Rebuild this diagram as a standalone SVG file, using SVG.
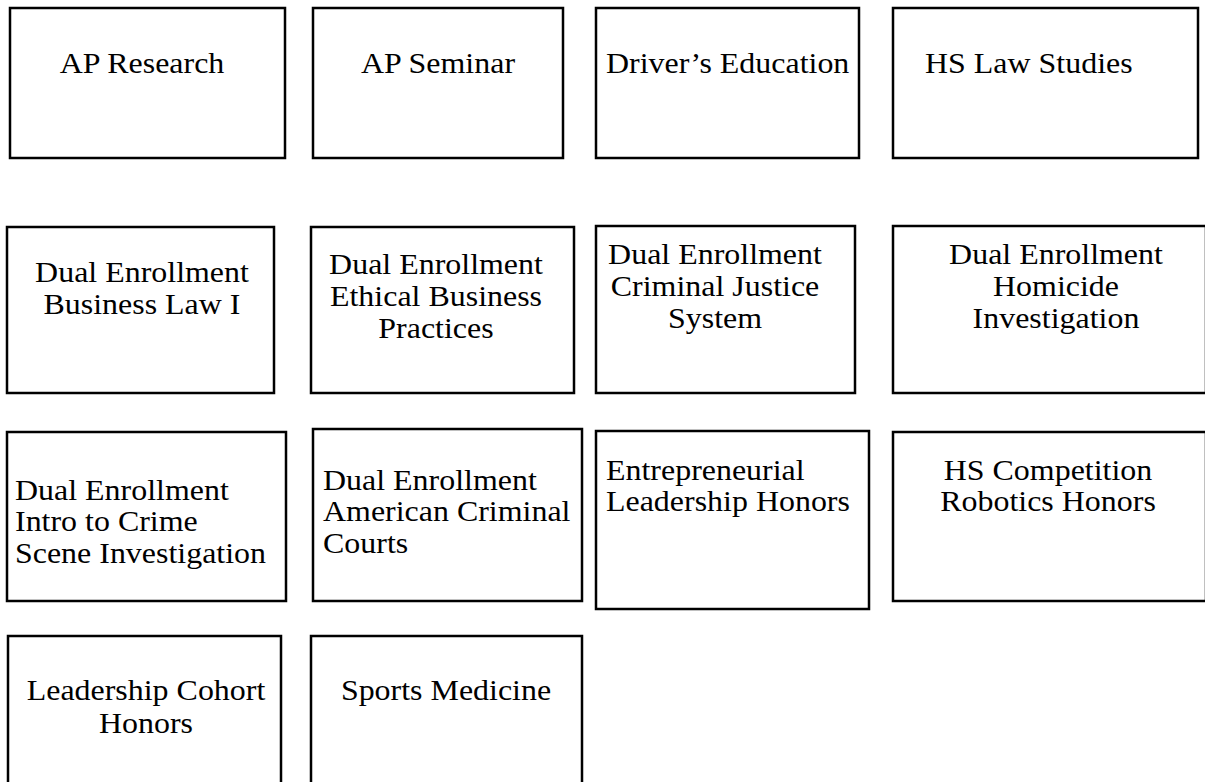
<svg xmlns="http://www.w3.org/2000/svg" width="1205" height="782" viewBox="0 0 1205 782">
<style>
.box{fill:#fff;stroke:#000;stroke-width:2.5}
.t{font-family:"Liberation Serif","Times New Roman",serif;font-size:28.4px;fill:#000}
.c{text-anchor:middle}
</style>
<rect width="1205" height="782" fill="#fff"/>
<g id="connectors"/>
<g id="n1"><rect class="box" x="10" y="8" width="275" height="150"/><text class="t c" transform="translate(142,73) scale(1.125,1)" x="0" y="0">AP Research</text></g>
<g id="n2"><rect class="box" x="313" y="8" width="250" height="150"/><text class="t c" transform="translate(438,73) scale(1.125,1)" x="0" y="0">AP Seminar</text></g>
<g id="n3"><rect class="box" x="596" y="8" width="263" height="150"/><text class="t" transform="translate(606,73) scale(1.125,1)" x="0" y="0">Driver’s Education</text></g>
<g id="n4"><rect class="box" x="893" y="8" width="305" height="150"/><text class="t" transform="translate(925,73) scale(1.125,1)" x="0" y="0">HS Law Studies</text></g>

<g id="n5"><rect class="box" x="7" y="227" width="267" height="166"/><text class="t c" transform="translate(142,282) scale(1.125,1)" y="0"><tspan x="0">Dual Enrollment</tspan><tspan x="0" dy="32">Business Law I</tspan></text></g>
<g id="n6"><rect class="box" x="311" y="227" width="263" height="166"/><text class="t c" transform="translate(436,274) scale(1.125,1)" y="0"><tspan x="0">Dual Enrollment</tspan><tspan x="0" dy="32">Ethical Business</tspan><tspan x="0" dy="32">Practices</tspan></text></g>
<g id="n7"><rect class="box" x="596" y="226" width="259" height="167"/><text class="t c" transform="translate(715,264) scale(1.125,1)" y="0"><tspan x="0">Dual Enrollment</tspan><tspan x="0" dy="32">Criminal Justice</tspan><tspan x="0" dy="32">System</tspan></text></g>
<g id="n8"><rect class="box" x="893" y="226" width="313" height="167"/><text class="t c" transform="translate(1056,264) scale(1.125,1)" y="0"><tspan x="0">Dual Enrollment</tspan><tspan x="0" dy="32">Homicide</tspan><tspan x="0" dy="32">Investigation</tspan></text></g>

<g id="n9"><rect class="box" x="7" y="432" width="279" height="169"/><text class="t" transform="translate(15,500) scale(1.125,1)" y="0"><tspan x="0">Dual Enrollment</tspan><tspan x="0" dy="31.5">Intro to Crime</tspan><tspan x="0" dy="31.5">Scene Investigation</tspan></text></g>
<g id="n10"><rect class="box" x="313" y="429" width="269" height="172"/><text class="t" transform="translate(323,490) scale(1.125,1)" y="0"><tspan x="0">Dual Enrollment</tspan><tspan x="0" dy="31.5">American Criminal</tspan><tspan x="0" dy="31.5">Courts</tspan></text></g>
<g id="n11"><rect class="box" x="596" y="431" width="273" height="178"/><text class="t" transform="translate(606,480) scale(1.125,1)" y="0"><tspan x="0">Entrepreneurial</tspan><tspan x="0" dy="31.5">Leadership Honors</tspan></text></g>
<g id="n12"><rect class="box" x="893" y="432" width="313" height="169"/><text class="t c" transform="translate(1048,480) scale(1.125,1)" y="0"><tspan x="0">HS Competition</tspan><tspan x="0" dy="31.5">Robotics Honors</tspan></text></g>

<g id="n13"><rect class="box" x="8" y="636" width="273" height="160"/><text class="t c" transform="translate(146,700) scale(1.125,1)" y="0"><tspan x="0">Leadership Cohort</tspan><tspan x="0" dy="33">Honors</tspan></text></g>
<g id="n14"><rect class="box" x="311" y="636" width="271" height="160"/><text class="t c" transform="translate(446,700) scale(1.125,1)" x="0" y="0">Sports Medicine</text></g>
</svg>
